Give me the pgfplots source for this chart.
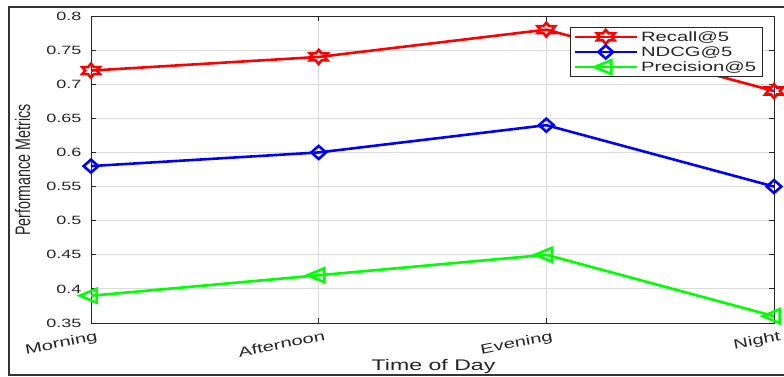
\documentclass[border=0pt]{standalone}
\usepackage{pgfplots}
\pgfplotsset{compat=1.18}
\usepackage{fontspec}
\setmainfont{Liberation Sans}[FakeStretch=1.5]
\newfontfamily\fy{Liberation Sans}[FakeStretch=0.68]
\definecolor{txt}{gray}{0.15}
\definecolor{gridc}{gray}{0.86}
\definecolor{mred}{rgb}{1,0,0}
\definecolor{mblue}{rgb}{0,0,1}
\definecolor{mgreen}{rgb}{0,1,0}
\pgfdeclareplotmark{hexagram}{%
  \pgfpathmoveto{\pgfpointpolar{90}{\pgfplotmarksize}}%
  \pgfpathlineto{\pgfpointpolar{120}{0.577\pgfplotmarksize}}%
  \pgfpathlineto{\pgfpointpolar{150}{\pgfplotmarksize}}%
  \pgfpathlineto{\pgfpointpolar{180}{0.577\pgfplotmarksize}}%
  \pgfpathlineto{\pgfpointpolar{210}{\pgfplotmarksize}}%
  \pgfpathlineto{\pgfpointpolar{240}{0.577\pgfplotmarksize}}%
  \pgfpathlineto{\pgfpointpolar{270}{\pgfplotmarksize}}%
  \pgfpathlineto{\pgfpointpolar{300}{0.577\pgfplotmarksize}}%
  \pgfpathlineto{\pgfpointpolar{330}{\pgfplotmarksize}}%
  \pgfpathlineto{\pgfpointpolar{0}{0.577\pgfplotmarksize}}%
  \pgfpathlineto{\pgfpointpolar{30}{\pgfplotmarksize}}%
  \pgfpathlineto{\pgfpointpolar{60}{0.577\pgfplotmarksize}}%
  \pgfpathclose
  \pgfusepathqstroke}
\begin{document}
\begin{tikzpicture}
\path[use as bounding box] (-91pt,-53pt) rectangle (693pt,323pt);
\fill[white] (-91pt,-53pt) rectangle (693pt,323pt);
\begin{axis}[
  at={(0pt,0pt)}, anchor=south west,
  scale only axis, width=683pt, height=307pt,
  xmin=0, xmax=3, ymin=0.35, ymax=0.8,
  xtick={0,1,2,3},
  xticklabels={Morning,Afternoon,Evening,Night},
  ytick={0.35,0.4,0.45,0.5,0.55,0.6,0.65,0.7,0.75,0.8},
  yticklabels={0.35,0.4,0.45,0.5,0.55,0.6,0.65,0.7,0.75,0.8},
  grid=major,
  major grid style={draw=gridc, line width=0.8pt},
  tick align=inside, tick pos=both,
  major tick length=5pt,
  axis line style={draw=txt, line width=0.8pt},
  tick style={draw=txt, line width=0.8pt},
  ticklabel style={font=\fontsize{12}{14}\selectfont, text=txt},
  xticklabel style={font=\fontsize{13.5}{15}\selectfont, rotate=11, anchor=north east, xshift=7pt, yshift=-5pt},
  yticklabel style={xshift=-6pt},
  xlabel={Time of Day},
  xlabel style={font=\fontsize{15.4}{17}\selectfont, text=txt,
    at={(axis description cs:0.5015,-0.143)}, anchor=center},
  ylabel={Performance Metrics},
  ylabel style={font=\fy\fontsize{21}{23}\selectfont, text=txt,
    at={(axis description cs:-0.1,0.498)}, anchor=center},
  legend style={at={(0.7014,0.9642)}, anchor=north west,
    draw=txt, line width=0.8pt, fill=white,
    font=\fontsize{13.5}{15}\selectfont, text=txt,
    inner xsep=3pt, inner ysep=2pt,
    nodes={inner xsep=3pt, inner ysep=1.9pt}},
  legend cell align=left,
  legend image code/.code={%
    \draw[mark repeat=2, mark phase=2, #1]
      plot coordinates {(0pt,0pt) (31pt,0pt) (62pt,0pt)};},
]
\addplot[mred, line width=2.6pt, mark=hexagram, mark size=7pt,
  mark options={solid, xscale=1.45}]
  coordinates {(0,0.72) (1,0.74) (2,0.78) (3,0.69)};
\addlegendentry{Recall@5}
\addplot[mblue, line width=2.6pt, mark=diamond, mark size=6.5pt,
  mark options={solid, xscale=1.5}]
  coordinates {(0,0.58) (1,0.60) (2,0.64) (3,0.55)};
\addlegendentry{NDCG@5}
\addplot[mgreen, line width=2.6pt, mark=triangle, mark size=8pt,
  mark options={solid, xscale=1.4, rotate=90}]
  coordinates {(0,0.39) (1,0.42) (2,0.45) (3,0.36)};
\addlegendentry{Precision@5}
\end{axis}
\draw[line width=2pt, draw=black!80] (700pt,316pt) -- (-82pt,316pt) -- (-82pt,-52pt) -- (700pt,-52pt);
\end{tikzpicture}
\end{document}
